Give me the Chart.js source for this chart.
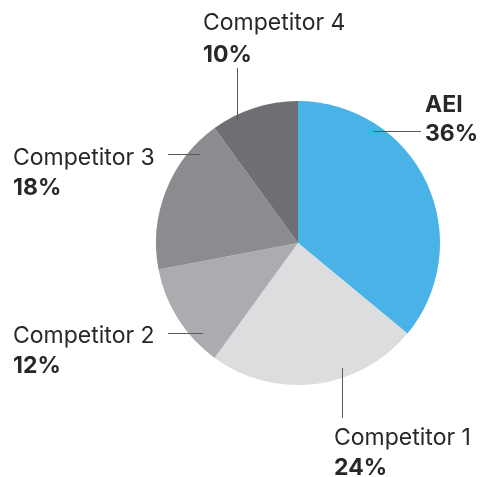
<!DOCTYPE html>
<html>
<head>
<meta charset="utf-8">
<script src="https://cdn.jsdelivr.net/npm/chart.js@4/dist/chart.umd.min.js"></script>
<style>
  html, body { margin: 0; padding: 0; background: #fff; }
  #wrap { width: 481px; height: 477px; }
</style>
</head>
<body>
<div id="wrap"><canvas id="pieChart"></canvas></div>
<script>
const labels = ["AEI", "Competitor 1", "Competitor 2", "Competitor 3", "Competitor 4"];
const shares = [36, 24, 12, 18, 10];
const colors = ["#49b2e6", "#dcdddf", "#abacb0", "#8b8c90", "#6e6f73"];

// label placement: text x, name baseline, value baseline, leader line (x1,y1)->(x2,y2)
const callouts = [
  { x: 425, y: 112, y2: 141, line: [373, 131, 421, 131], nameBold: true },
  { x: 334, y: 445, y2: 475, line: [342, 368, 342, 418] },
  { x: 13, y: 343, y2: 373, line: [168, 333, 203, 333] },
  { x: 13, y: 165, y2: 195, line: [168, 154, 200, 154] },
  { x: 203, y: 30, y2: 62, line: [237, 68, 237, 121] }
];

const calloutPlugin = {
  id: "callouts",
  afterDatasetsDraw(chart) {
    const ctx = chart.ctx;
    ctx.save();
    callouts.forEach((c, i) => {
      const vert = c.line[0] === c.line[2];
      ctx.strokeStyle = "#5a5a5a";
      ctx.lineWidth = 1;
      ctx.beginPath();
      ctx.moveTo(c.line[0] + (vert ? 0.5 : 0), c.line[1] + (vert ? 0 : 0.5));
      ctx.lineTo(c.line[2] + (vert ? 0.5 : 0), c.line[3] + (vert ? 0 : 0.5));
      ctx.stroke();

      ctx.fillStyle = "#282828";
      ctx.textAlign = "left";
      ctx.textBaseline = "alphabetic";
      ctx.font = (c.nameBold ? "bold " : "") + "23px Inter";
      ctx.fillText(labels[i], c.x, c.y);
      ctx.font = "bold 23px Inter";
      ctx.fillText(shares[i] + "%", c.x, c.y2);
    });
    ctx.restore();
  }
};

new Chart(document.getElementById("pieChart").getContext("2d"), {
  type: "pie",
  data: {
    labels: labels,
    datasets: [{
      data: shares,
      backgroundColor: colors,
      borderWidth: 0
    }]
  },
  options: {
    responsive: true,
    maintainAspectRatio: false,
    animation: false,
    layout: { padding: { left: 156, right: 41, top: 101, bottom: 92 } },
    plugins: {
      legend: { display: false },
      tooltip: { enabled: false }
    }
  },
  plugins: [calloutPlugin]
});
</script>
</body>
</html>
